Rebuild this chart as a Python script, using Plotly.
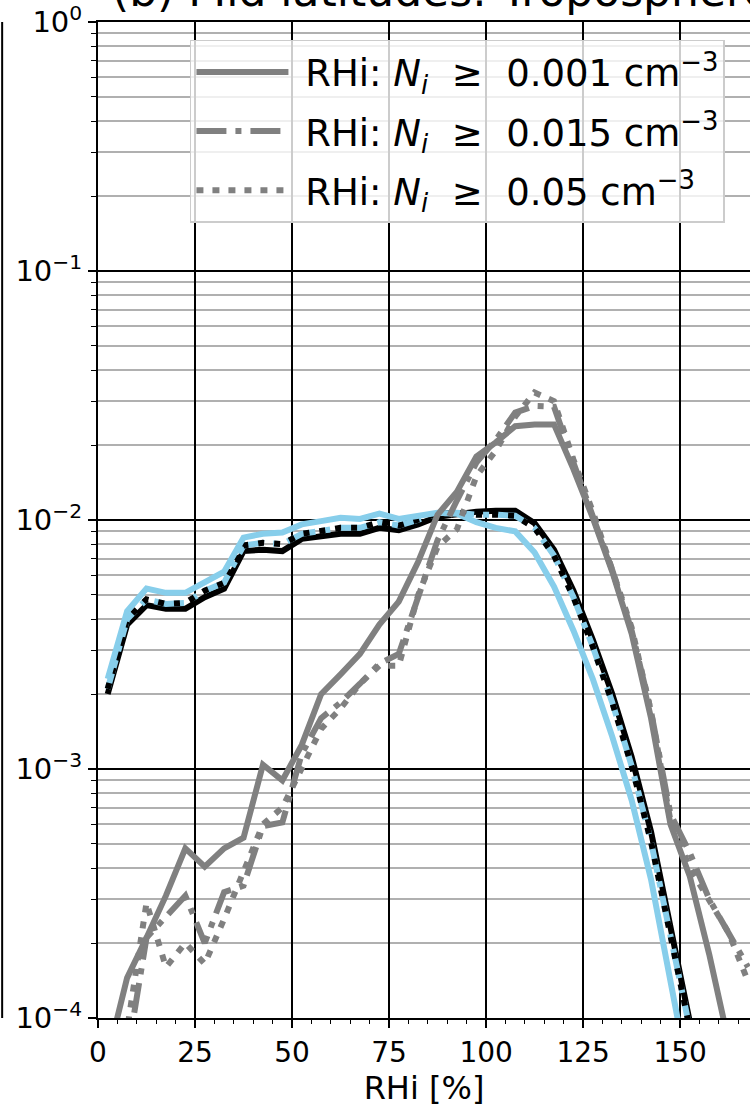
import plotly.graph_objects as go

# RHi bin centres [%]
rhi = [2.5, 7.5, 12.5, 17.5, 22.5, 27.5, 32.5, 37.5, 42.5, 47.5, 52.5, 57.5,
       62.5, 67.5, 72.5, 77.5, 82.5, 87.5, 92.5, 97.5, 102.5, 107.5, 112.5,
       117.5, 122.5, 127.5, 132.5, 137.5, 142.5, 147.5, 152.5, 157.5, 162.5, 167.5]

# gray curves (legend entries)
rhi_n0001 = [7e-5, 1.45e-4, 2.1e-4, 3.1e-4, 4.8e-4, 4.05e-4, 4.8e-4, 5.3e-4, 1.04e-3, 9.0e-4,
             1.25e-3, 2.0e-3, 2.4e-3, 2.9e-3, 3.8e-3, 4.7e-3, 6.8e-3, 1.05e-2, 1.3e-2, 1.8e-2,
             2.05e-2, 2.38e-2, 2.42e-2, 2.42e-2, 1.6e-2, 1.02e-2, 6.2e-3, 3.5e-3, 1.6e-3, 6.0e-4,
             3.7e-4, 1.8e-4, 8e-5, 4e-5]
rhi_n0015 = [4e-5, 7e-5, 2.1e-4, 2.55e-4, 3.1e-4, 2.0e-4, 3.2e-4, 3.4e-4, 5.9e-4, 6.1e-4,
             1.15e-3, 1.6e-3, 1.85e-3, 2.2e-3, 2.65e-3, 2.9e-3, 5.0e-3, 8.3e-3, 1.2e-2, 1.7e-2,
             2.1e-2, 2.7e-2, 2.87e-2, 2.85e-2, 1.7e-2, 1.05e-2, 6.3e-3, 3.6e-3, 1.7e-3, 6.6e-4,
             4.6e-4, 3.0e-4, 2.2e-4, 1.6e-4]
rhi_n005 = [4e-5, 9e-5, 2.9e-4, 1.6e-4, 2.0e-4, 1.65e-4, 2.5e-4, 3.9e-4, 6.0e-4, 7.0e-4,
            1.0e-3, 1.45e-3, 1.75e-3, 2.2e-3, 2.6e-3, 2.6e-3, 5.0e-3, 7.8e-3, 9.2e-3, 1.5e-2,
            1.9e-2, 2.6e-2, 3.25e-2, 3.0e-2, 1.75e-2, 1.08e-2, 6.3e-3, 3.7e-3, 1.7e-3, 6.2e-4,
            4.0e-4, 3.0e-4, 2.2e-4, 1.4e-4]

# black / sky-blue curves (no legend)
black_solid = [2.0e-3, 3.8e-3, 4.55e-3, 4.4e-3, 4.4e-3, 4.9e-3, 5.3e-3, 7.5e-3, 7.6e-3, 7.5e-3,
               8.4e-3, 8.6e-3, 8.8e-3, 8.8e-3, 9.3e-3, 9.1e-3, 9.6e-3, 1.03e-2, 1.06e-2, 1.08e-2,
               1.09e-2, 1.09e-2, 9.7e-3, 7.6e-3, 5.2e-3, 3.3e-3, 2.0e-3, 1.12e-3, 5.6e-4, 2.3e-4,
               9.8e-5, 4e-5, None, None]
mid_curve = [2.1e-3, 4.0e-3, 4.8e-3, 4.6e-3, 4.65e-3, 5.2e-3, 5.6e-3, 7.9e-3, 8.1e-3, 8.0e-3,
             8.8e-3, 9.0e-3, 9.3e-3, 9.3e-3, 9.8e-3, 9.5e-3, 1.0e-2, 1.06e-2, 1.07e-2, 1.05e-2,
             1.05e-2, 1.04e-2, 9.3e-3, 7.2e-3, 4.9e-3, 3.1e-3, 1.85e-3, 1.03e-3, 5.1e-4, 2.1e-4,
             9e-5, 3.8e-5, None, None]
blue_solid = [2.3e-3, 4.3e-3, 5.3e-3, 5.1e-3, 5.1e-3, 5.6e-3, 6.2e-3, 8.5e-3, 8.8e-3, 8.9e-3,
              9.6e-3, 9.9e-3, 1.02e-2, 1.01e-2, 1.06e-2, 1.01e-2, 1.04e-2, 1.07e-2, 1.06e-2, 9.8e-3,
              9.3e-3, 9.0e-3, 7.4e-3, 5.4e-3, 3.6e-3, 2.3e-3, 1.35e-3, 7.5e-4, 3.6e-4, 1.4e-4,
              5.5e-5, None, None, None]

x_ticks = [0, 25, 50, 75, 100, 125, 150]
y_ticks = [1e-4, 1e-3, 1e-2, 1e-1, 1]
y_ticktext = ["10<sup>\u22124</sup>", "10<sup>\u22123</sup>", "10<sup>\u22122</sup>",
              "10<sup>\u22121</sup>", "10<sup>0</sup>"]
minor_y = [m * 10.0 ** e for e in range(-4, 0) for m in range(2, 10)]

legend_labels = [
    "\u00a0RHi: <i>N<sub>i</sub></i>\u00a0\u00a0\u2265\u00a0\u00a00.001 cm<sup>\u22123</sup>",
    "\u00a0RHi: <i>N<sub>i</sub></i>\u00a0\u00a0\u2265\u00a0\u00a00.015 cm<sup>\u22123</sup>",
    "\u00a0RHi: <i>N<sub>i</sub></i>\u00a0\u00a0\u2265\u00a0\u00a00.05 cm<sup>\u22123</sup>",
]

GRAY = "#808080"
SKY = "#87CEEB"
LW = 6

fig = go.Figure()
fig.add_trace(go.Scatter(x=rhi, y=black_solid, mode="lines", showlegend=False,
                         line=dict(color="black", width=LW)))
fig.add_trace(go.Scatter(x=rhi, y=mid_curve, mode="lines", showlegend=False,
                         line=dict(color=SKY, width=LW, dash="30px,9px,6px,9px")))
fig.add_trace(go.Scatter(x=rhi, y=mid_curve, mode="lines", showlegend=False,
                         line=dict(color="black", width=LW, dash="6px,10px")))
fig.add_trace(go.Scatter(x=rhi, y=blue_solid, mode="lines", showlegend=False,
                         line=dict(color=SKY, width=LW)))

fig.add_trace(go.Scatter(x=rhi, y=rhi_n0001, mode="lines", name=legend_labels[0],
                         legendgroup="a", line=dict(color=GRAY, width=LW)))
fig.add_trace(go.Scatter(x=rhi, y=rhi_n0015, mode="lines", name=legend_labels[1],
                         legendgroup="b", line=dict(color=GRAY, width=LW, dash="30px,9px,6px,9px")))
fig.add_trace(go.Scatter(x=rhi, y=rhi_n005, mode="lines", name=legend_labels[2],
                         legendgroup="c", line=dict(color=GRAY, width=LW, dash="7px,9px")))

FONT = "DejaVu Sans"
fig.update_layout(
    width=750, height=1108,
    margin=dict(l=98, r=0, t=22, b=90, autoexpand=False),
    paper_bgcolor="white", plot_bgcolor="white",
    font=dict(family=FONT, size=29, color="black"),
    showlegend=True,
    legend=dict(x=0.141, y=0.982, xanchor="left", yanchor="top",
                bgcolor="rgba(255,255,255,0.8)", bordercolor="#cccccc", borderwidth=1.5,
                font=dict(family=FONT, size=37, color="black"),
                itemwidth=92, tracegroupgap=8),
    xaxis=dict(range=[0, 168], tickvals=x_ticks, ticks="outside", ticklen=8, tickwidth=1.5,
               tickcolor="black", showline=True, linecolor="black", linewidth=2, mirror=True,
               showgrid=True, gridcolor="black", gridwidth=1.5, zeroline=False,
               minor=dict(dtick=5, ticks="outside", ticklen=4, tickwidth=1.2, tickcolor="black",
                          showgrid=False),
               title=dict(text="RHi [%]", font=dict(size=32), standoff=2),
               tickfont=dict(size=28)),
    yaxis=dict(type="log", range=[-4, 0], tickvals=y_ticks, ticktext=y_ticktext,
               ticks="outside", ticklen=8, tickwidth=1.5, tickcolor="black",
               showline=True, linecolor="black", linewidth=2, mirror=True,
               showgrid=True, gridcolor="black", gridwidth=1.5, zeroline=False,
               minor=dict(tickvals=minor_y, ticks="outside", ticklen=5, tickwidth=1.2,
                          tickcolor="black", showgrid=True, gridcolor="#b0b0b0", gridwidth=2),
               tickfont=dict(size=29)),
    annotations=[dict(text="(b) Mid latitudes: Troposphere", xref="paper", yref="paper",
                      x=0.018, y=1.0, xanchor="left", yanchor="bottom", showarrow=False,
                      yshift=4, font=dict(family=FONT, size=44, color="black"))],
    shapes=[dict(type="line", xref="paper", yref="paper", x0=-0.147, x1=-0.147, y0=0, y1=1,
                 line=dict(color="black", width=2))],
)

fig.write_html("out.html", config={"displayModeBar": False},
               post_script="document.body.style.margin='0';document.body.style.overflow='hidden';")
